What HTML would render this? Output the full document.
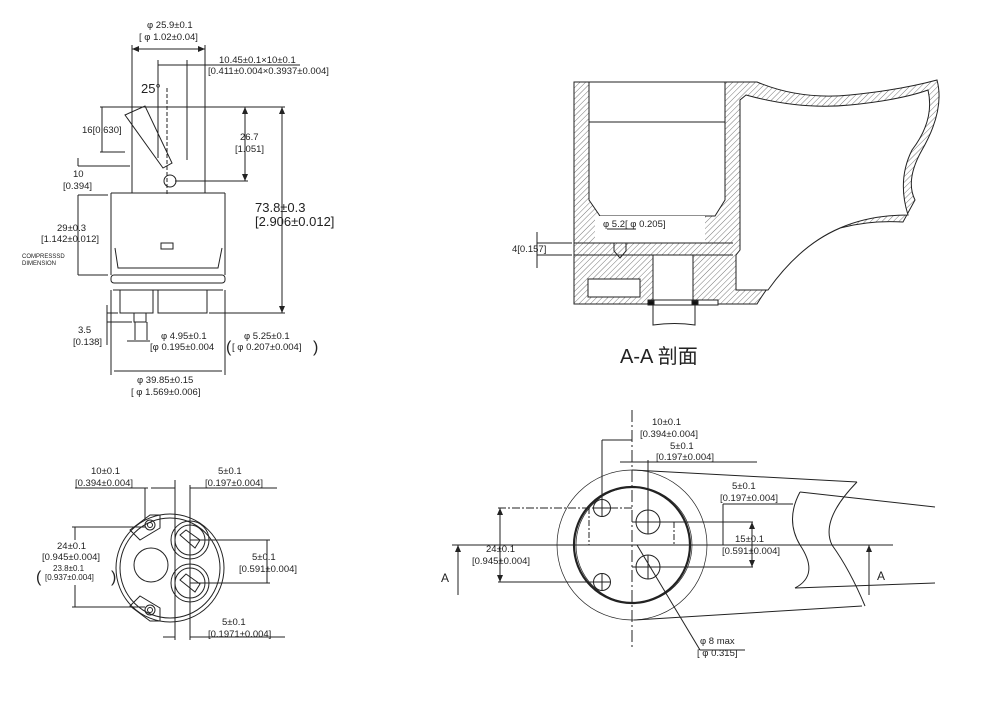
<!DOCTYPE html>
<html><head><meta charset="utf-8"><style>
html,body{margin:0;padding:0;background:#fff}
svg{display:block}
text{font-family:"Liberation Sans","Noto Sans CJK SC",sans-serif;fill:#222}
</style></head><body>
<svg width="999" height="705" viewBox="0 0 999 705" xmlns="http://www.w3.org/2000/svg">
<defs>
<pattern id="h" width="4" height="4" patternUnits="userSpaceOnUse" patternTransform="rotate(45)">
<rect width="4" height="4" fill="#fff"/><line x1="0" y1="0" x2="0" y2="4" stroke="#555" stroke-width="0.8"/></pattern>
</defs>
<g stroke="#222" stroke-width="1" fill="none">
<!-- ===== TOP LEFT ===== -->
<line x1="132" y1="49" x2="205" y2="49"/>
<line x1="132" y1="45" x2="132" y2="193"/>
<line x1="205" y1="45" x2="205" y2="193"/>
<line x1="158" y1="65" x2="187" y2="65"/>
<line x1="158" y1="60" x2="158" y2="158"/>
<line x1="187" y1="60" x2="187" y2="160"/>
<line x1="187" y1="65" x2="300" y2="65"/>
<path d="M125 115 L145 106 L172 163 L163 168 Z"/>
<line x1="167" y1="88" x2="167" y2="195" stroke-dasharray="4,2"/>
<circle cx="170" cy="181" r="6"/>
<line x1="100" y1="107" x2="285" y2="107"/>
<line x1="100" y1="152" x2="125" y2="152"/>
<line x1="102" y1="107" x2="102" y2="152"/>
<line x1="245" y1="107" x2="245" y2="181"/>
<line x1="175" y1="181" x2="248" y2="181"/>
<line x1="78" y1="166" x2="130" y2="166"/>
<line x1="78" y1="158" x2="78" y2="166"/>
<line x1="111" y1="193" x2="225" y2="193"/>
<line x1="111" y1="193" x2="111" y2="275"/>
<line x1="225" y1="193" x2="225" y2="275"/>
<path d="M115 248 L118 268 L218 268 L222 248"/>
<rect x="161" y="243" width="12" height="6"/>
<rect x="111" y="275" width="114" height="8" rx="3"/>
<line x1="113" y1="290" x2="223" y2="290"/>
<rect x="120" y="290" width="33" height="23"/>
<rect x="158" y="290" width="49" height="23"/>
<rect x="134" y="313" width="12" height="9"/>
<line x1="135" y1="322" x2="135" y2="340"/>
<line x1="147" y1="322" x2="147" y2="340"/>
<line x1="78" y1="195" x2="108" y2="195"/>
<line x1="78" y1="195" x2="78" y2="275"/>
<line x1="78" y1="275" x2="108" y2="275"/>
<line x1="282" y1="107" x2="282" y2="313"/>
<line x1="209" y1="313" x2="285" y2="313"/>
<line x1="107" y1="305" x2="107" y2="345"/>
<line x1="107" y1="313" x2="118" y2="313"/>
<line x1="107" y1="322" x2="132" y2="322"/>
<line x1="127" y1="341" x2="150" y2="341"/>
<line x1="111" y1="290" x2="111" y2="375"/>
<line x1="225" y1="290" x2="225" y2="375"/>
<line x1="114" y1="371" x2="222" y2="371"/>
<!-- ===== SECTION A-A ===== -->
<path d="M574 82 L757 82 Q800 100 850 95 Q900 90 937 80 Q945 110 922 150 Q905 180 915 200 L903 222 Q870 220 840 228 Q790 250 757 304 L574 304 Z" fill="url(#h)"/>
<path d="M589 82 L725 82 L725 200 L715 216 L600 216 L589 200 Z" fill="#fff"/>
<path d="M746 95 Q800 110 850 105 Q900 100 928 90 Q935 120 912 150 Q897 180 908 215 Q870 215 840 228 Q800 245 768 290 L736 290 L736 255 L740 250 L740 100 Z" fill="#fff"/>
<line x1="589" y1="122" x2="725" y2="122"/>
<rect x="595" y="216" width="110" height="27" fill="#fff" stroke="none"/>
<line x1="574" y1="243" x2="733" y2="243"/>
<line x1="574" y1="255" x2="733" y2="255"/>
<path d="M614 243 L614 251 L620 258 L626 251 L626 243"/>
<rect x="653" y="255" width="40" height="45" fill="#fff"/>
<rect x="588" y="279" width="52" height="18" fill="#fff"/>
<rect x="648" y="300" width="70" height="5" fill="#fff"/>
<path d="M653 305 L653 325 Q675 322 695 325 L695 305"/>
<rect x="648" y="301" width="6" height="4" fill="#111"/>
<rect x="692" y="301" width="6" height="4" fill="#111"/>
<line x1="537" y1="243" x2="572" y2="243"/>
<line x1="537" y1="255" x2="572" y2="255"/>
<line x1="537" y1="232" x2="537" y2="268"/>
<line x1="607" y1="229" x2="636" y2="229"/>
<!-- ===== BOTTOM LEFT ===== -->
<circle cx="170" cy="568" r="54"/>
<circle cx="170" cy="568" r="50"/>
<path d="M130 530 L150 515 L160 515 L160 528 L140 540 Z"/>
<path d="M130 606 L150 621 L160 621 L160 608 L140 596 Z"/>
<circle cx="150" cy="525" r="5"/><circle cx="150" cy="525" r="2.5"/>
<circle cx="150" cy="610" r="5"/><circle cx="150" cy="610" r="2.5"/>
<circle cx="151" cy="565" r="17"/>
<circle cx="190" cy="540" r="19"/><circle cx="190" cy="540" r="15"/>
<circle cx="190" cy="583" r="19"/><circle cx="190" cy="583" r="15"/>
<path d="M180 535 L195 548 L200 540 L186 530 Z"/>
<path d="M180 580 L195 592 L200 584 L186 574 Z"/>
<line x1="145" y1="488" x2="145" y2="520"/>
<line x1="75" y1="488" x2="148" y2="488"/>
<line x1="151" y1="488" x2="175" y2="488"/>
<line x1="175" y1="480" x2="175" y2="640"/>
<line x1="190" y1="485" x2="190" y2="640"/>
<line x1="190" y1="488" x2="277" y2="488"/>
<line x1="72" y1="527" x2="145" y2="527"/>
<line x1="72" y1="607" x2="145" y2="607"/>
<line x1="75" y1="527" x2="75" y2="540"/>
<line x1="75" y1="585" x2="75" y2="607"/>
<line x1="190" y1="540" x2="270" y2="540"/>
<line x1="190" y1="583" x2="270" y2="583"/>
<line x1="267" y1="540" x2="267" y2="583"/>
<line x1="163" y1="637" x2="175" y2="637"/>
<line x1="190" y1="637" x2="285" y2="637"/>
<!-- ===== BOTTOM RIGHT ===== -->
<circle cx="632" cy="545" r="75" stroke-width="0.7"/>
<circle cx="634" cy="545" r="58" stroke-width="0.7"/>
<circle cx="632" cy="545" r="58" stroke-width="2.2"/>
<line x1="632" y1="410" x2="632" y2="648" stroke-dasharray="12,3,2,3"/>
<line x1="452" y1="545" x2="893" y2="545"/>
<circle cx="602" cy="508" r="8.5"/><line x1="593" y1="508" x2="611" y2="508"/><line x1="602" y1="499" x2="602" y2="517"/>
<circle cx="602" cy="582" r="8.5"/><line x1="593" y1="582" x2="611" y2="582"/><line x1="602" y1="573" x2="602" y2="591"/>
<circle cx="648" cy="522" r="12"/><line x1="648" y1="510" x2="648" y2="534"/>
<circle cx="648" cy="567" r="12"/><line x1="648" y1="555" x2="648" y2="579"/>
<line x1="602" y1="440" x2="602" y2="508"/>
<line x1="602" y1="440" x2="632" y2="440"/>
<line x1="648" y1="460" x2="648" y2="510"/>
<line x1="620" y1="462" x2="648" y2="462"/>
<line x1="648" y1="462" x2="757" y2="462"/>
<line x1="498" y1="508" x2="632" y2="508" stroke-dasharray="8,2,2,2"/>
<line x1="498" y1="582" x2="602" y2="582"/>
<line x1="500" y1="508" x2="500" y2="582"/>
<line x1="589" y1="508" x2="589" y2="545" stroke-dasharray="6,2,2,2"/>
<line x1="632" y1="522" x2="753" y2="522"/>
<line x1="632" y1="567" x2="753" y2="567"/>
<line x1="752" y1="522" x2="752" y2="567"/>
<line x1="674" y1="522" x2="674" y2="545" stroke-dasharray="6,2,2,2"/>
<line x1="723" y1="504" x2="793" y2="504"/>
<line x1="723" y1="504" x2="723" y2="545"/>
<line x1="637" y1="545" x2="700" y2="650"/>
<line x1="700" y1="650" x2="745" y2="650"/>
<line x1="632" y1="470" x2="857" y2="482"/>
<line x1="800" y1="492" x2="935" y2="507"/>
<path d="M857 482 Q820 520 832 545 Q850 570 865 606"/>
<path d="M800 492 Q785 520 800 545 Q820 575 795 588"/>
<line x1="795" y1="588" x2="935" y2="583"/>
<line x1="634" y1="620" x2="862" y2="606"/>
<line x1="458" y1="545" x2="458" y2="595"/>
<line x1="869" y1="545" x2="869" y2="595"/>
</g>
<g fill="#222">
<path d="M458 545 l-3 7 h6 z"/><path d="M869 545 l-3 7 h6 z"/>
<path d="M282 107 l-3 7 h6 z"/><path d="M282 313 l-3 -7 h6 z"/>
<path d="M245 107 l-3 7 h6 z"/><path d="M245 181 l-3 -7 h6 z"/>
<path d="M132 49 l7 -3 v6 z"/><path d="M205 49 l-7 -3 v6 z"/>
<path d="M500 508 l-3 7 h6 z"/><path d="M500 582 l-3 -7 h6 z"/>
<path d="M752 522 l-3 7 h6 z"/><path d="M752 567 l-3 -7 h6 z"/>
</g>
<g font-size="9.5">
<text x="147" y="28">φ 25.9±0.1</text>
<text x="139" y="40">[ φ 1.02±0.04]</text>
<text x="219" y="63">10.45±0.1×10±0.1</text>
<text x="208" y="74">[0.411±0.004×0.3937±0.004]</text>
<text x="141" y="93" font-size="13">25°</text>
<text x="82" y="133">16[0.630]</text>
<text x="240" y="140">26.7</text>
<text x="235" y="152">[1.051]</text>
<text x="73" y="177">10</text>
<text x="63" y="189">[0.394]</text>
<text x="57" y="231">29±0.3</text>
<text x="41" y="242">[1.142±0.012]</text>
<text x="22" y="258" font-size="6">COMPRESSSD</text>
<text x="22" y="265" font-size="6">DIMENSION</text>
<text x="255" y="212" font-size="13">73.8±0.3</text>
<text x="255" y="226" font-size="13">[2.906±0.012]</text>
<text x="78" y="333">3.5</text>
<text x="73" y="345">[0.138]</text>
<text x="161" y="339">φ 4.95±0.1</text>
<text x="150" y="350">[φ 0.195±0.004</text>
<text x="244" y="339">φ 5.25±0.1</text>
<text x="232" y="350">[ φ 0.207±0.004]</text>
<text x="226" y="352" font-size="16">(</text><text x="313" y="352" font-size="16">)</text>
<text x="137" y="383">φ 39.85±0.15</text>
<text x="131" y="395">[ φ 1.569±0.006]</text>
<text x="603" y="227">φ 5.2[ φ 0.205]</text>
<text x="512" y="252">4[0.157]</text>
<text x="620" y="363" font-size="20">A-A 剖面</text>
<text x="91" y="474">10±0.1</text>
<text x="75" y="486">[0.394±0.004]</text>
<text x="218" y="474">5±0.1</text>
<text x="205" y="486">[0.197±0.004]</text>
<text x="57" y="549">24±0.1</text>
<text x="42" y="560">[0.945±0.004]</text>
<text x="53" y="571" font-size="8">23.8±0.1</text>
<text x="45" y="580" font-size="8">[0.937±0.004]</text>
<text x="36" y="582" font-size="16">(</text><text x="111" y="582" font-size="16">)</text>
<text x="252" y="560">5±0.1</text>
<text x="239" y="572">[0.591±0.004]</text>
<text x="222" y="625">5±0.1</text>
<text x="208" y="637">[0.1971±0.004]</text>
<text x="652" y="425">10±0.1</text>
<text x="640" y="437">[0.394±0.004]</text>
<text x="670" y="449">5±0.1</text>
<text x="656" y="460">[0.197±0.004]</text>
<text x="732" y="489">5±0.1</text>
<text x="720" y="501">[0.197±0.004]</text>
<text x="735" y="542">15±0.1</text>
<text x="722" y="554">[0.591±0.004]</text>
<text x="486" y="552">24±0.1</text>
<text x="472" y="564">[0.945±0.004]</text>
<text x="441" y="582" font-size="12">A</text>
<text x="877" y="580" font-size="12">A</text>
<text x="700" y="644">φ 8 max</text>
<text x="697" y="656">[ φ 0.315]</text>
</g>
</svg>
</body></html>
